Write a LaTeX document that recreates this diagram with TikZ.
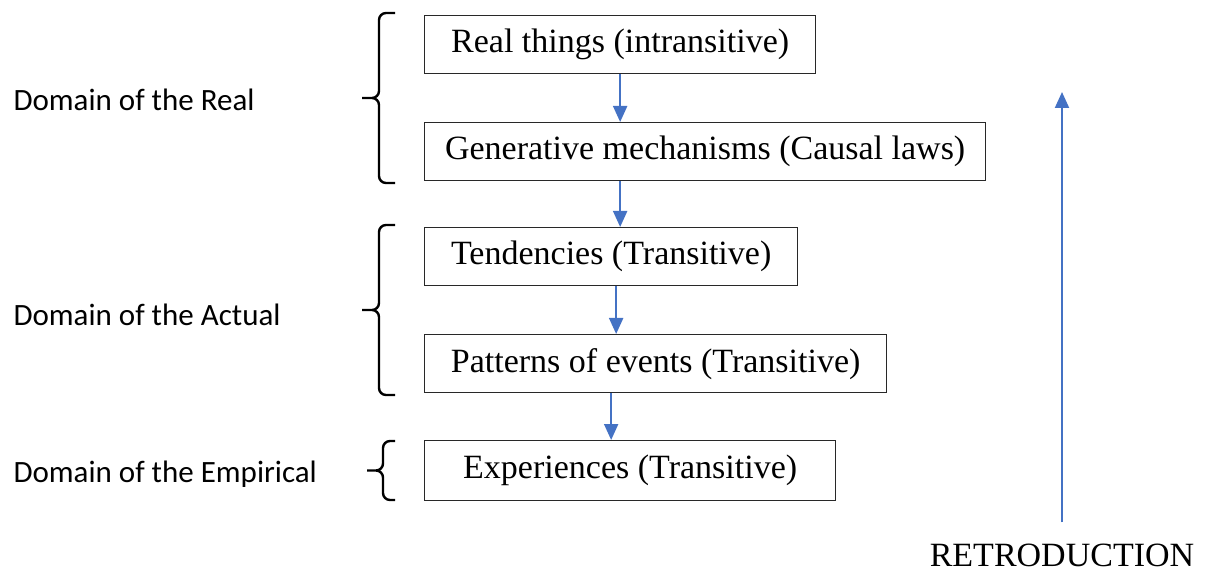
\documentclass[tikz,border=0pt]{standalone}
\usepackage{fontspec}
\setmainfont{Liberation Serif}
\newfontfamily\labfont{Carlito}
\usepackage{tikz}
\usetikzlibrary{arrows.meta}
\definecolor{colFleche}{RGB}{68,114,196}
\definecolor{colBord}{RGB}{40,40,40}

\begin{document}
\begin{tikzpicture}[x=1pt, y=-1pt, >={Triangle[length=16pt, width=14pt]},
    boite/.style={draw=colBord, line width=1.3pt, anchor=north west,
        minimum height=58pt, inner sep=0pt, font=\fontsize{34}{40}\selectfont},
    fleche/.style={->, colFleche, line width=2pt},
    accolade/.style={line width=2.4pt, rounded corners=7pt},
    domaine/.style={anchor=base west, font=\labfont\fontsize{31}{36}\selectfont}]

\useasboundingbox (0,0) rectangle (1211,572);

% Boites (alignees a gauche)
\node[boite, minimum width=391pt] (reel) at (424,15) {Real things (intransitive)};
\node[boite, minimum width=561pt] (gen)  at (424,122) {Generative mechanisms (Causal laws)};
\node[boite, minimum width=373pt] (tend) at (424,227) {Tendencies (Transitive)};
\node[boite, minimum width=462pt] (patt) at (424,334) {Patterns of events (Transitive)};
\node[boite, minimum width=411pt, minimum height=60pt] (expe) at (424,440) {Experiences (Transitive)};

% Fleches entre les boites
\draw[fleche] (reel.south) -- (gen.north -| reel.south);
\draw[fleche] (gen.south -| reel.south) -- (tend.north -| reel.south);
\draw[fleche] ([xshift=5pt]tend.south) -- ([xshift=5pt]tend.south |- patt.north);
\draw[fleche] (patt.south -| tend.south) -- (expe.north -| tend.south);

% Accolades : haut/bas/tige/pointe
\foreach \h/\b/\s/\p in {13/183/379/362, 225/395/379/362, 441/500/383/367} {
    \pgfmathsetmacro\m{(\h+\b)/2}
    \draw[accolade] (395,\h) -- (\s,\h) -- (\s,\m) -- (\p,\m)
        (\p,\m) -- (\s,\m) -- (\s,\b) -- (395,\b);
}

% Domaines
\node[domaine] (dreel) at (10,111) {Domain of the Real};
\node[domaine] (dactu) at (10,326) {Domain of the Actual};
\node[domaine] (dempi) at (10,482) {Domain of the Empirical};

% Retroduction
\node[anchor=base, inner sep=0pt, font=\fontsize{34}{40}\selectfont] (retro) at (1062,566) {RETRODUCTION};
\coordinate (rhaut) at (1062,92);
\draw[fleche] ([yshift=21pt]retro.north) -- (rhaut);

\end{tikzpicture}
\end{document}
